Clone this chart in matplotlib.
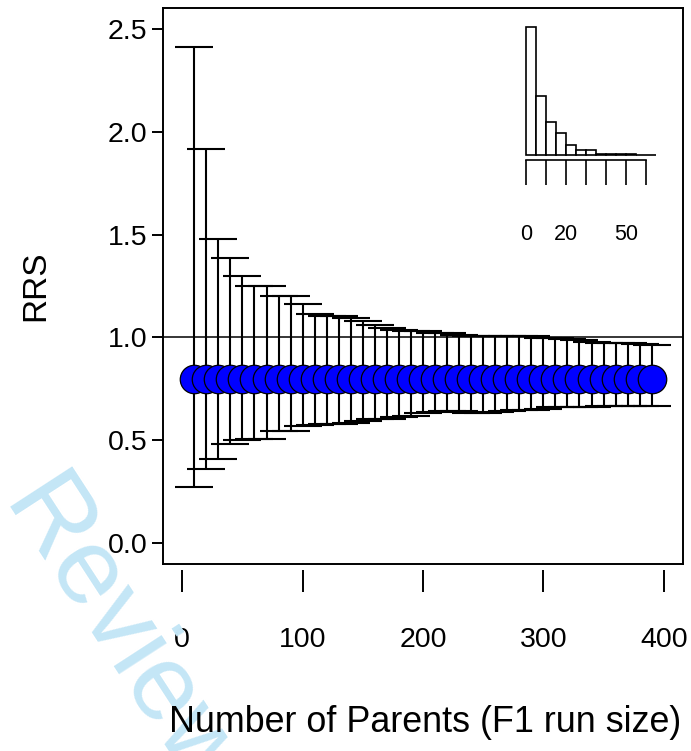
import numpy as np
import matplotlib.pyplot as plt

plt.rcParams['font.family'] = ['Liberation Sans', 'DejaVu Sans']

# F1 run size (number of parents) and RRS summary per run size
n_parents = [10, 20, 30, 40, 50, 60, 70, 80, 90, 100,
             110, 120, 130, 140, 150, 160, 170, 180, 190, 200,
             210, 220, 230, 240, 250, 260, 270, 280, 290, 300,
             310, 320, 330, 340, 350, 360, 370, 380, 390]
rrs_mean = [0.80] * 39
rrs_upper = [2.41, 1.915, 1.476, 1.387, 1.299, 1.252, 1.252, 1.203, 1.203, 1.164,
             1.113, 1.105, 1.105, 1.097, 1.08, 1.062, 1.045, 1.035, 1.032, 1.03,
             1.024, 1.022, 1.01, 1.007, 1.007, 1.007, 1.007, 1.006, 1.005, 0.997,
             0.996, 0.995, 0.99, 0.98, 0.975, 0.972, 0.972, 0.97, 0.962]
rrs_lower = [0.275, 0.361, 0.41, 0.482, 0.50, 0.505, 0.508, 0.548, 0.548, 0.568,
             0.576, 0.578, 0.581, 0.587, 0.595, 0.604, 0.606, 0.615, 0.618, 0.633,
             0.638, 0.641, 0.641, 0.632, 0.633, 0.638, 0.643, 0.649, 0.65, 0.652,
             0.66, 0.661, 0.662, 0.663, 0.665, 0.666, 0.666, 0.667, 0.667]

# inset histogram (bins of width 5)
hist_edges = [0, 5, 10, 15, 20, 25, 30, 35, 40, 45, 50, 55, 60, 65]
hist_counts = [129, 59, 33, 22, 10, 5, 5, 1, 1, 1, 1, 0, 0]

x_ticks = [0, 100, 200, 300, 400]
y_ticks = [0.0, 0.5, 1.0, 1.5, 2.0, 2.5]
inset_ticks = [0, 10, 20, 30, 40, 50, 60]
inset_labels = ['0', '', '20', '', '', '50', '']

W, H = 691, 751
fig = plt.figure(figsize=(W / 100, H / 100), dpi=100)

# watermark
wm_col = '#c4e6f6'
fig.text(0 / W, 1 - 505 / H, 'Review', rotation=-57, rotation_mode='anchor',
         ha='left', va='baseline', fontsize=78, color=wm_col, zorder=0)

ax = fig.add_axes([163 / W, 1 - 564 / H, 520 / W, 556 / H])
ax.set_xlim(-16, 416)
ax.set_ylim(-0.1, 2.6)
ax.patch.set_alpha(0)

ax.axhline(1.0, color='black', lw=1.1, zorder=1)

x = np.array(n_parents)
m = np.array(rrs_mean)
ax.errorbar(x, m, yerr=[m - np.array(rrs_lower), np.array(rrs_upper) - m],
            fmt='none', ecolor='black', elinewidth=1.5, capsize=13.5,
            capthick=1.5, zorder=2)
for xi, mi in zip(n_parents, rrs_mean):
    ax.plot([xi], [mi], 'o', ms=20.5, mfc='#0000ff', mec='black', mew=0.9, zorder=3)

for s in ax.spines.values():
    s.set_linewidth(1.4)

ax.set_yticks(y_ticks)
ax.set_yticklabels(['%.1f' % v for v in y_ticks])
ax.tick_params(axis='y', length=8, width=1.4, pad=3, labelsize=20.5)
ax.set_xticks([])

# detached x axis ticks, R style
sec = ax.secondary_xaxis(-0.01)
sec.set_xticks(x_ticks)
sec.spines['bottom'].set_visible(False)
sec.tick_params(axis='x', length=16, width=1.4, pad=25, labelsize=20.5)

ax.set_ylabel('RRS', fontsize=24, labelpad=41)
fig.text((168 + 683) / 2 / W, 1 - 722 / H, 'Number of Parents (F1 run size)',
         ha='center', va='center', fontsize=25.8)

# inset histogram
ins = fig.add_axes([520.5 / W, 1 - 160 / H, 140.4 / W, 138 / H])
ins.patch.set_alpha(0)
ins.bar(hist_edges[:-1], hist_counts, width=5, align='edge',
        color='white', edgecolor='black', linewidth=1.2)
ins.set_xlim(-2.6, 67.6)
ins.set_ylim(-0.04 * max(hist_counts), 1.04 * max(hist_counts))
for k in ['top', 'right', 'left']:
    ins.spines[k].set_visible(False)
ins.spines['bottom'].set_bounds(0, 60)
ins.spines['bottom'].set_linewidth(1.2)
ins.set_yticks([])
ins.set_xticks(inset_ticks)
ins.set_xticklabels(inset_labels)
ins.tick_params(axis='x', length=18, width=1.2, pad=28, labelsize=15.5)

fig.savefig('out.png', dpi=100)
